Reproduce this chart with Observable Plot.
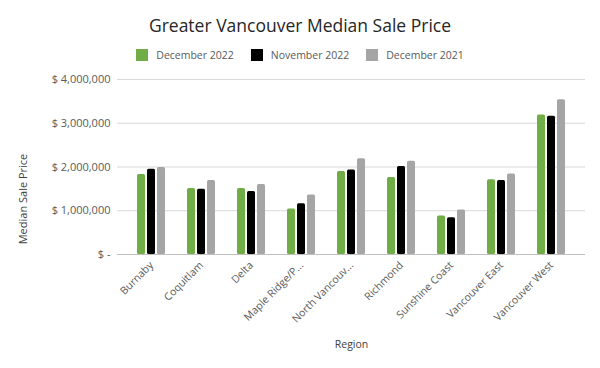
<!DOCTYPE html>
<html>
<head>
<meta charset="utf-8">
<script src="https://cdn.jsdelivr.net/npm/d3@7"></script>
<script src="https://cdn.jsdelivr.net/npm/@observablehq/plot@0.6"></script>
<style>
  html, body { margin: 0; padding: 0; background: #fff; }
  body { width: 600px; height: 368px; overflow: hidden; position: relative; font-family: "Open Sans", sans-serif; }
  #title { position: absolute; left: 0; top: 13px; width: 600px; text-align: center; font-size: 17.5px; color: #262626; line-height: 24px; }
  #legend { position: absolute; left: 0; top: 49px; width: 600px; height: 12px; display: flex; justify-content: center; font-size: 10.5px; color: #595959; line-height: 12px; }
  .item { display: flex; align-items: center; margin: 0 8.5px; }
  .sw { width: 12px; height: 12px; margin-right: 8px; }
  .layer { position: absolute; left: 0; top: 65px; }
  #ylabel { position: absolute; left: -77.5px; top: 192px; width: 200px; height: 14px; line-height: 14px; text-align: center; font-size: 11px; color: #404040; transform: rotate(-90deg); transform-origin: 50% 50%; z-index: 2; }
</style>
</head>
<body>
<div id="title"></div>
<div id="legend"></div>
<div id="bg" class="layer"></div>
<div id="fg" class="layer"></div>
<div id="ylabel"></div>
<script>
const titleText = "Greater Vancouver Median Sale Price";
const regions = ["Burnaby", "Coquitlam", "Delta", "Maple Ridge/Pitt Meadows", "North Vancouver", "Richmond", "Sunshine Coast", "Vancouver East", "Vancouver West"];
const regionLabels = ["Burnaby", "Coquitlam", "Delta", "Maple Ridge/P...", "North Vancouv...", "Richmond", "Sunshine Coast", "Vancouver East", "Vancouver West"];
const series = ["December 2022", "November 2022", "December 2021"];
const colors = ["#70ad47", "#000000", "#a5a5a5"];
const dec2022 = [1830000, 1510000, 1510000, 1040000, 1900000, 1760000, 880000, 1710000, 3190000];
const nov2022 = [1950000, 1490000, 1440000, 1160000, 1930000, 2010000, 840000, 1690000, 3160000];
const dec2021 = [1990000, 1690000, 1600000, 1360000, 2190000, 2130000, 1020000, 1840000, 3540000];
const yTicks = [0, 1000000, 2000000, 3000000, 4000000];
const yLabel = "Median Sale Price";
const xLabel = "Region";

document.getElementById("title").textContent = titleText;
document.getElementById("ylabel").textContent = yLabel;
const legend = document.getElementById("legend");
series.forEach((s, i) => {
  const it = document.createElement("div");
  it.className = "item";
  const sw = document.createElement("div");
  sw.className = "sw";
  sw.style.background = colors[i];
  const t = document.createElement("span");
  t.textContent = s;
  it.appendChild(sw); it.appendChild(t);
  legend.appendChild(it);
});

const valuesBySeries = [dec2022, nov2022, dec2021];
const data = [];
regions.forEach((r, i) => {
  series.forEach((s, j) => data.push({region: r, series: s, value: valuesBySeries[j][i]}));
});
const labelOf = new Map(regions.map((r, i) => [r, regionLabels[i]]));
const fmt = d => d === 0 ? "$ -" : "$ " + d3.format(",")(d);

const H = 303, MT = 14, MB = 114;
const textStyle = {fontFamily: "Open Sans, sans-serif", fontSize: "11px", color: "#595959", background: "transparent"};

// background layer: gridlines, baseline, y tick labels, x axis title
const bg = Plot.plot({
  width: 600, height: H,
  marginLeft: 117, marginRight: 15, marginTop: MT, marginBottom: MB,
  style: textStyle,
  x: {axis: null, domain: [0, 1]},
  y: {domain: [0, 4000000], axis: null},
  marks: [
    Plot.ruleY(yTicks, {stroke: d => d === 0 ? "#bfbfbf" : "#d9d9d9", strokeWidth: 1}),
    Plot.text(yTicks, {y: d => d, text: fmt, frameAnchor: "left", textAnchor: "end", dx: -7, fill: "#595959"}),
    Plot.text([xLabel], {frameAnchor: "bottom", dy: 93, fill: "#404040", fontSize: 10.5})
  ]
});
document.getElementById("bg").appendChild(bg);

// foreground layer: bars by region facet
const fg = Plot.plot({
  width: 600, height: H,
  marginLeft: 126, marginRight: 24, marginTop: MT, marginBottom: MB,
  style: {...textStyle, fontSize: "10.5px"},
  fx: {domain: regions, padding: 0, tickFormat: d => labelOf.get(d), tickRotate: -45, tickSize: 0, tickPadding: 9, label: null},
  x: {domain: series, axis: null, paddingInner: 0.18, paddingOuter: 0.864},
  y: {domain: [0, 4000000], axis: null},
  color: {domain: series, range: colors},
  marks: [
    Plot.barY(data, {fx: "region", x: "series", y: "value", fill: "series", rx: 1.5}),
    Plot.ruleY([0], {stroke: "#bfbfbf", strokeWidth: 1})
  ]
});
document.getElementById("fg").appendChild(fg);
</script>
</body>
</html>
